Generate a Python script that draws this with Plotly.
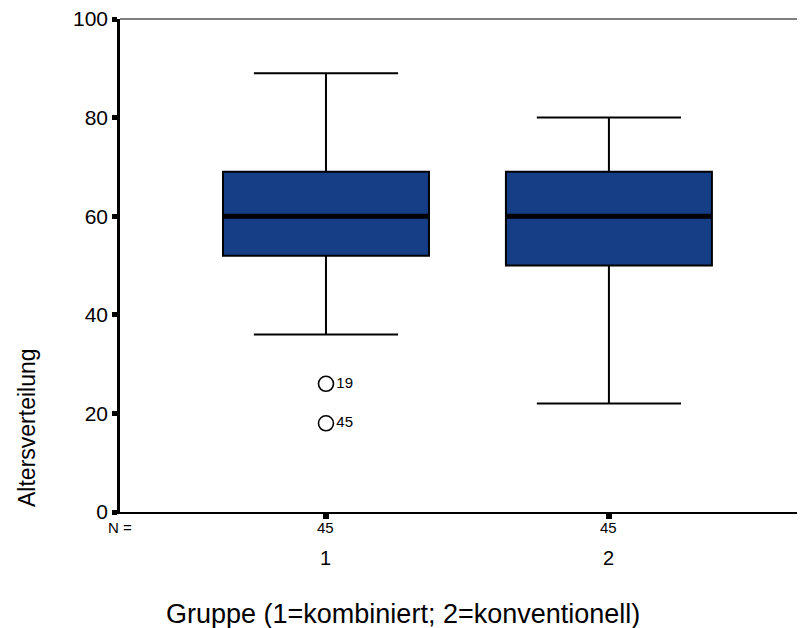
import plotly.graph_objects as go

categories = [1, 2]
cat_labels = ["1", "2"]
n_counts = [45, 45]
q1 = [52, 50]
median = [60, 60]
q3 = [69, 69]
lower = [36, 22]
upper = [89, 80]
out_x = [1, 1]
out_y = [26, 18]
out_ids = ["19", "45"]

BOX_W = 0.728
FONT = "Liberation Sans, Arial, sans-serif"

fig = go.Figure()
fig.add_trace(go.Box(
    x=categories, q1=q1, median=median, q3=q3,
    lowerfence=lower, upperfence=upper,
    width=BOX_W, whiskerwidth=0.7,
    fillcolor="#163E87", line=dict(color="black", width=2),
    boxpoints=False, hoverinfo="skip", showlegend=False,
))
for c, m in zip(categories, median):
    fig.add_trace(go.Scatter(
        x=[c - BOX_W / 2, c + BOX_W / 2], y=[m, m], mode="lines",
        line=dict(color="black", width=5), showlegend=False, hoverinfo="skip",
    ))
fig.add_trace(go.Scatter(
    x=out_x, y=out_y, mode="markers+text", text=out_ids,
    textposition="middle right", textfont=dict(family=FONT, size=15, color="black"),
    marker=dict(symbol="circle-open", size=15, color="black", line=dict(width=1.6)),
    showlegend=False, hoverinfo="skip",
))

annotations = []
annotations.append(dict(x=0, xref="paper", y=(512 - 527) / 493, yref="paper", text="N =",
                        showarrow=False, xanchor="center", yanchor="middle",
                        font=dict(family=FONT, size=15, color="black")))
for c, n, lab in zip(categories, n_counts, cat_labels):
    annotations.append(dict(x=c, xref="x", y=(512 - 527) / 493, yref="paper", text=str(n),
                            showarrow=False, yanchor="middle",
                            font=dict(family=FONT, size=15, color="black")))
    annotations.append(dict(x=c, xref="x", y=(512 - 558) / 493, yref="paper", text=lab,
                            showarrow=False, yanchor="middle",
                            font=dict(family=FONT, size=20, color="black")))
annotations.append(dict(x=(402.5 - 120) / 685, xref="paper", y=(512 - 614) / 493, yref="paper",
                        text="Gruppe (1=kombiniert; 2=konventionell)", showarrow=False,
                        yanchor="middle", font=dict(family=FONT, size=27, color="black")))
annotations.append(dict(x=(27 - 120) / 685, xref="paper", y=(512 - 428) / 493, yref="paper",
                        text="Altersverteilung", textangle=-90, showarrow=False,
                        xanchor="center", yanchor="middle",
                        font=dict(family=FONT, size=23, color="black")))

fig.update_layout(
    width=797, height=620,
    margin=dict(l=112, r=0, t=11, b=116),
    paper_bgcolor="white", plot_bgcolor="white",
    font=dict(family=FONT, color="black"),
    annotations=annotations,
    shapes=[dict(type="line", xref="paper", yref="paper", x0=0, x1=1, y0=1, y1=1,
                 line=dict(color="black", width=1.2))],
    xaxis=dict(range=[0.272, 2.693], tickvals=categories, ticktext=["", ""],
               ticks="outside", ticklen=5, tickwidth=6, tickcolor="black",
               showline=True, linecolor="black", linewidth=2,
               showgrid=False, zeroline=False, fixedrange=True),
    yaxis=dict(range=[0, 100], tickvals=[0, 20, 40, 60, 80, 100],
               ticks="outside", ticklen=5, tickwidth=5, tickcolor="black",
               tickfont=dict(family=FONT, size=21, color="black"),
               ticklabeloverflow="allow",
               showline=True, linecolor="black", linewidth=2.5,
               showgrid=False, zeroline=False, fixedrange=True),
)

fig.write_html("out.html")
